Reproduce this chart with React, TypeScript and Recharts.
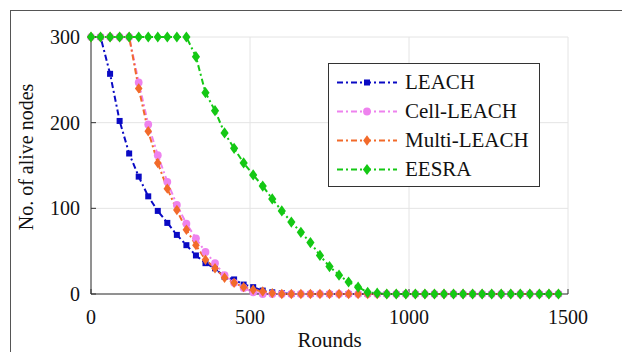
import React from "react";
import {
  LineChart,
  Line,
  XAxis,
  YAxis,
  CartesianGrid,
  Legend,
} from "recharts";

const FONT = "'Liberation Serif', 'Times New Roman', serif";

const rounds = [
  0, 30, 60, 90, 120, 150, 180, 210, 240, 270, 300, 330, 360, 390, 420, 450, 480, 510, 540, 570,
  600, 630, 660, 690, 720, 750, 780, 810, 840, 870, 900, 930, 960, 990, 1020, 1050, 1080, 1110,
  1140, 1170, 1200, 1230, 1260, 1290, 1320, 1350, 1380, 1410, 1440, 1470,
];

const leach = [
  300, 300, 257, 202, 164, 137, 114, 97, 83, 69, 57, 45, 36, 30, 20, 17, 11, 8, 4, 2, 1, 0, 0, 0, 0,
  0, 0, 0, 0, 0, 0, 0, 0, 0, 0, 0, 0, 0, 0, 0, 0, 0, 0, 0, 0, 0, 0, 0, 0, 0,
];

const cellLeach = [
  300, 300, 300, 300, 300, 247, 198, 162, 131, 104, 82, 65, 49, 36, 22, 13, 7, 2, 0, 0, 0, 0, 0, 0,
  0, 0, 0, 0, 0, 0, 0, 0, 0, 0, 0, 0, 0, 0, 0, 0, 0, 0, 0, 0, 0, 0, 0, 0, 0, 0,
];

const multiLeach = [
  300, 300, 300, 300, 300, 240, 190, 153, 123, 98, 75, 57, 40, 30, 19, 13, 8, 5, 3, 1, 0, 0, 0, 0,
  0, 0, 0, 0, 0, 0, 0, 0, 0, 0, 0, 0, 0, 0, 0, 0, 0, 0, 0, 0, 0, 0, 0, 0, 0, 0,
];

const eesra = [
  300, 300, 300, 300, 300, 300, 300, 300, 300, 300, 300, 277, 235, 214, 188, 170, 153, 139, 126,
  111, 97, 84, 72, 60, 45, 32, 22, 14, 8, 2, 1, 0, 0, 0, 0, 0, 0, 0, 0, 0, 0, 0, 0, 0, 0, 0, 0, 0,
  0, 0,
];

const xTicks = [0, 500, 1000, 1500];
const yTicks = [0, 100, 200, 300];

const data = rounds.map((r, i) => ({
  round: r,
  leach: leach[i],
  cellLeach: cellLeach[i],
  multiLeach: multiLeach[i],
  eesra: eesra[i],
}));

type Shape = "square" | "circle" | "diamond" | "bigDiamond";

const series: { key: string; name: string; color: string; shape: Shape }[] = [
  { key: "leach", name: "LEACH", color: "#0a0ac4", shape: "square" },
  { key: "cellLeach", name: "Cell-LEACH", color: "#ee82ee", shape: "circle" },
  { key: "multiLeach", name: "Multi-LEACH", color: "#f26a2a", shape: "diamond" },
  { key: "eesra", name: "EESRA", color: "#14c814", shape: "bigDiamond" },
];

const DASH = "6 3 2 3";

function marker(shape: Shape, color: string, cx: number, cy: number, key?: string | number) {
  if (shape === "square")
    return <rect key={key} x={cx - 3} y={cy - 3} width={6} height={6} fill={color} />;
  if (shape === "circle") return <circle key={key} cx={cx} cy={cy} r={3.9} fill={color} />;
  const hw = shape === "diamond" ? 3.8 : 4.1;
  const hh = shape === "diamond" ? 5.2 : 5.6;
  return (
    <polygon
      key={key}
      points={`${cx},${cy - hh} ${cx + hw},${cy} ${cx},${cy + hh} ${cx - hw},${cy}`}
      fill={color}
    />
  );
}

const makeDot = (shape: Shape, color: string) => (props: any) =>
  marker(shape, color, props.cx, props.cy, props.index);

function LegendBox() {
  return (
    <div
      style={{
        width: 212,
        height: 124,
        boxSizing: "border-box",
        border: "1px solid #333",
        background: "#fff",
        position: "relative",
        fontFamily: FONT,
      }}
    >
      {series.map((s, i) => (
        <div
          key={s.key}
          style={{ position: "absolute", left: 0, top: 4 + i * 29, height: 29, width: 210 }}
        >
          <svg width={76} height={29} style={{ position: "absolute", left: 0, top: 0 }}>
            <line
              x1={8}
              x2={68}
              y1={14.5}
              y2={14.5}
              stroke={s.color}
              strokeWidth={1.8}
              strokeDasharray={DASH}
            />
            {marker(s.shape, s.color, 38, 14.5)}
          </svg>
          <span
            style={{
              position: "absolute",
              left: 76,
              top: 2,
              fontSize: 21,
              lineHeight: "24px",
              color: "#111",
              whiteSpace: "nowrap",
              fontFamily: FONT,
            }}
          >
            {s.name}
          </span>
        </div>
      ))}
    </div>
  );
}

const YLabel = () => (
  <text
    x={33}
    y={157}
    transform="rotate(-90, 33, 157)"
    textAnchor="middle"
    fontSize={20}
    style={{ fontFamily: FONT }}
    fill="#111"
  >
    No. of alive nodes
  </text>
);

const XLabel = () => (
  <text x={329.5} y={347} textAnchor="middle" fontSize={21} style={{ fontFamily: FONT }} fill="#111">
    Rounds
  </text>
);

export default function App() {
  const tickStyle = { fill: "#111", fontSize: 20, style: { fontFamily: FONT } };
  return (
    <div
      style={{
        position: "absolute",
        left: 0,
        top: 0,
        width: 622,
        height: 352,
        background: "#fff",
        overflow: "hidden",
        fontFamily: FONT,
      }}
    >
      <div
        style={{
          position: "absolute",
          left: 10,
          top: 10,
          width: 630,
          height: 360,
          borderLeft: "1px solid #555",
          borderTop: "1px solid #555",
        }}
      />
      <div style={{ position: "absolute", left: 0, top: 0, fontFamily: FONT }}>
        <LineChart
          width={622}
          height={352}
          data={data}
          margin={{ top: 37, right: 54, left: 10, bottom: 0 }}
          style={{ fontFamily: FONT }}
        >
          <CartesianGrid stroke="#e4e4e4" strokeWidth={1} />
          <XAxis
            dataKey="round"
            type="number"
            domain={[0, 1500]}
            ticks={xTicks}
            height={58}
            tickSize={-5}
            tickMargin={21}
            tick={tickStyle}
            stroke="#333"
            interval={0}
            label={<XLabel />}
          />
          <XAxis
            xAxisId="top"
            orientation="top"
            dataKey="round"
            type="number"
            domain={[0, 1500]}
            ticks={xTicks}
            height={0}
            tickSize={-5}
            tick={false}
            stroke="#333"
          />
          <YAxis
            type="number"
            domain={[0, 300]}
            ticks={yTicks}
            width={81}
            tickSize={-5}
            tickMargin={16}
            tick={tickStyle}
            stroke="#333"
            interval={0}
            label={<YLabel />}
          />
          <YAxis
            yAxisId="right"
            orientation="right"
            type="number"
            domain={[0, 300]}
            ticks={yTicks}
            width={0}
            tickSize={-5}
            tick={false}
            stroke="#333"
          />
          {series.map((s) => (
            <Line
              key={s.key}
              type="linear"
              dataKey={s.key}
              name={s.name}
              stroke={s.color}
              strokeWidth={2}
              strokeDasharray={DASH}
              dot={makeDot(s.shape, s.color)}
              activeDot={false}
              isAnimationActive={false}
            />
          ))}
          <Legend
            layout="vertical"
            align="center"
            verticalAlign="middle"
            content={() => <LegendBox />}
            wrapperStyle={{ left: 328, top: 63, width: 212, height: 124, bottom: "auto" }}
          />
        </LineChart>
      </div>
    </div>
  );
}
